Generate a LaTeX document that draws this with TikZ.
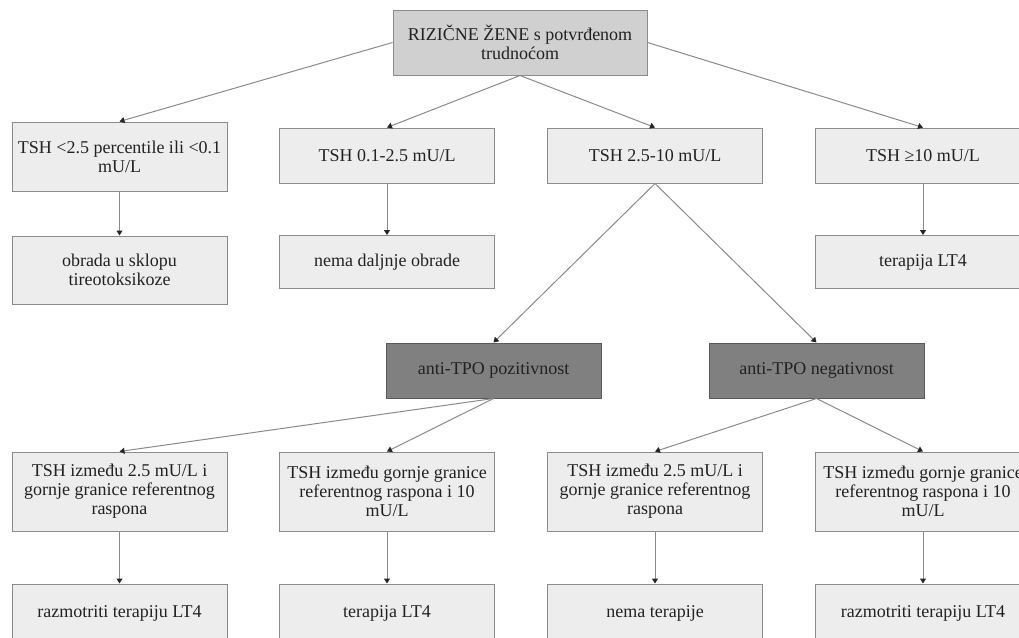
\documentclass[tikz,border=0pt]{standalone}
\usepackage{fontspec}
\setmainfont{Liberation Serif}
\usetikzlibrary{arrows.meta}
\definecolor{lfill}{HTML}{EDEDED}
\definecolor{lborder}{HTML}{8C8C8C}
\definecolor{tfill}{HTML}{D0D0D0}
\definecolor{dfill}{HTML}{808080}
\definecolor{dborder}{HTML}{5A5A5A}
\definecolor{txt}{HTML}{222222}
\definecolor{lnc}{HTML}{8A8A8A}
\tikzset{
  lbox/.style={draw=lborder, fill=lfill, line width=1pt, inner sep=0pt, align=center,
    text=txt, font=\fontsize{18}{19}\selectfont, minimum width=215pt},
  tbox/.style={lbox, fill=tfill},
  dbox/.style={lbox, fill=dfill, draw=dborder},
  conn/.style={draw=lnc, line width=1pt, -{Triangle[length=5pt,width=6pt,color=black!85]}}
}
\begin{document}
\begin{tikzpicture}[x=1pt,y=-1pt]
\useasboundingbox (0,0) rectangle (1019,637);
\node[tbox, minimum width=254pt, minimum height=65pt] (top) at (520,42.5) {RIZIČNE ŽENE s potvrđenom\\trudnoćom};
% level 2
\node[lbox, minimum height=69pt] (b1) at (119.5,156.5) {TSH <2.5 percentile ili <0.1\\mU/L};
\node[lbox, minimum height=55pt] (b2) at (387,155.5) {TSH 0.1-2.5 mU/L};
\node[lbox, minimum height=55pt] (b3) at (655,155.5) {TSH 2.5-10 mU/L};
\node[lbox, minimum height=55pt] (b4) at (923,155.5) {TSH ≥10 mU/L};
% level 3
\node[lbox, minimum height=68pt] (c1) at (119.5,270) {obrada u sklopu\\tireotoksikoze};
\node[lbox, minimum height=53pt] (c2) at (387,262) {nema daljnje obrade};
\node[lbox, minimum height=53pt] (c4) at (923,262) {terapija LT4};
% level 4
\node[dbox, minimum height=55pt] (pos) at (493.5,370.5) {anti-TPO pozitivnost};
\node[dbox, minimum height=55pt] (neg) at (816.5,370.5) {anti-TPO negativnost};
% level 5
\node[lbox, minimum height=79pt] (d1) at (119.5,491.5) {TSH između 2.5 mU/L i\\gornje granice referentnog\\raspona};
\node[lbox, minimum height=79pt] (d2) at (387,491.5) {TSH između gornje granice\\referentnog raspona i 10\\mU/L};
\node[lbox, minimum height=79pt] (d3) at (655,491.5) {TSH između 2.5 mU/L i\\gornje granice referentnog\\raspona};
\node[lbox, minimum height=79pt] (d4) at (923,491.5) {TSH između gornje granice\\referentnog raspona i 10\\mU/L};
% level 6
\node[lbox, minimum height=58pt] (e1) at (119.5,613) {razmotriti terapiju LT4};
\node[lbox, minimum height=58pt] (e2) at (387,613) {terapija LT4};
\node[lbox, minimum height=58pt] (e3) at (655,613) {nema terapije};
\node[lbox, minimum height=58pt] (e4) at (923,613) {razmotriti terapiju LT4};
% connectors
\draw[conn] (top.west) -- (b1.north);
\draw[conn] (top.south) -- (b2.north);
\draw[conn] (top.south) -- (b3.north);
\draw[conn] (top.east) -- (b4.north);
\draw[conn] (b1) -- (c1);
\draw[conn] (b2) -- (c2);
\draw[conn] (b4) -- (c4);
\draw[conn] (b3.south) -- (pos.north);
\draw[conn] (b3.south) -- (neg.north);
\draw[conn] (pos.south) -- (d1.north);
\draw[conn] (pos.south) -- (d2.north);
\draw[conn] (neg.south) -- (d3.north);
\draw[conn] (neg.south) -- (d4.north);
\draw[conn] (d1) -- (e1);
\draw[conn] (d2) -- (e2);
\draw[conn] (d3) -- (e3);
\draw[conn] (d4) -- (e4);
\end{tikzpicture}
\end{document}
